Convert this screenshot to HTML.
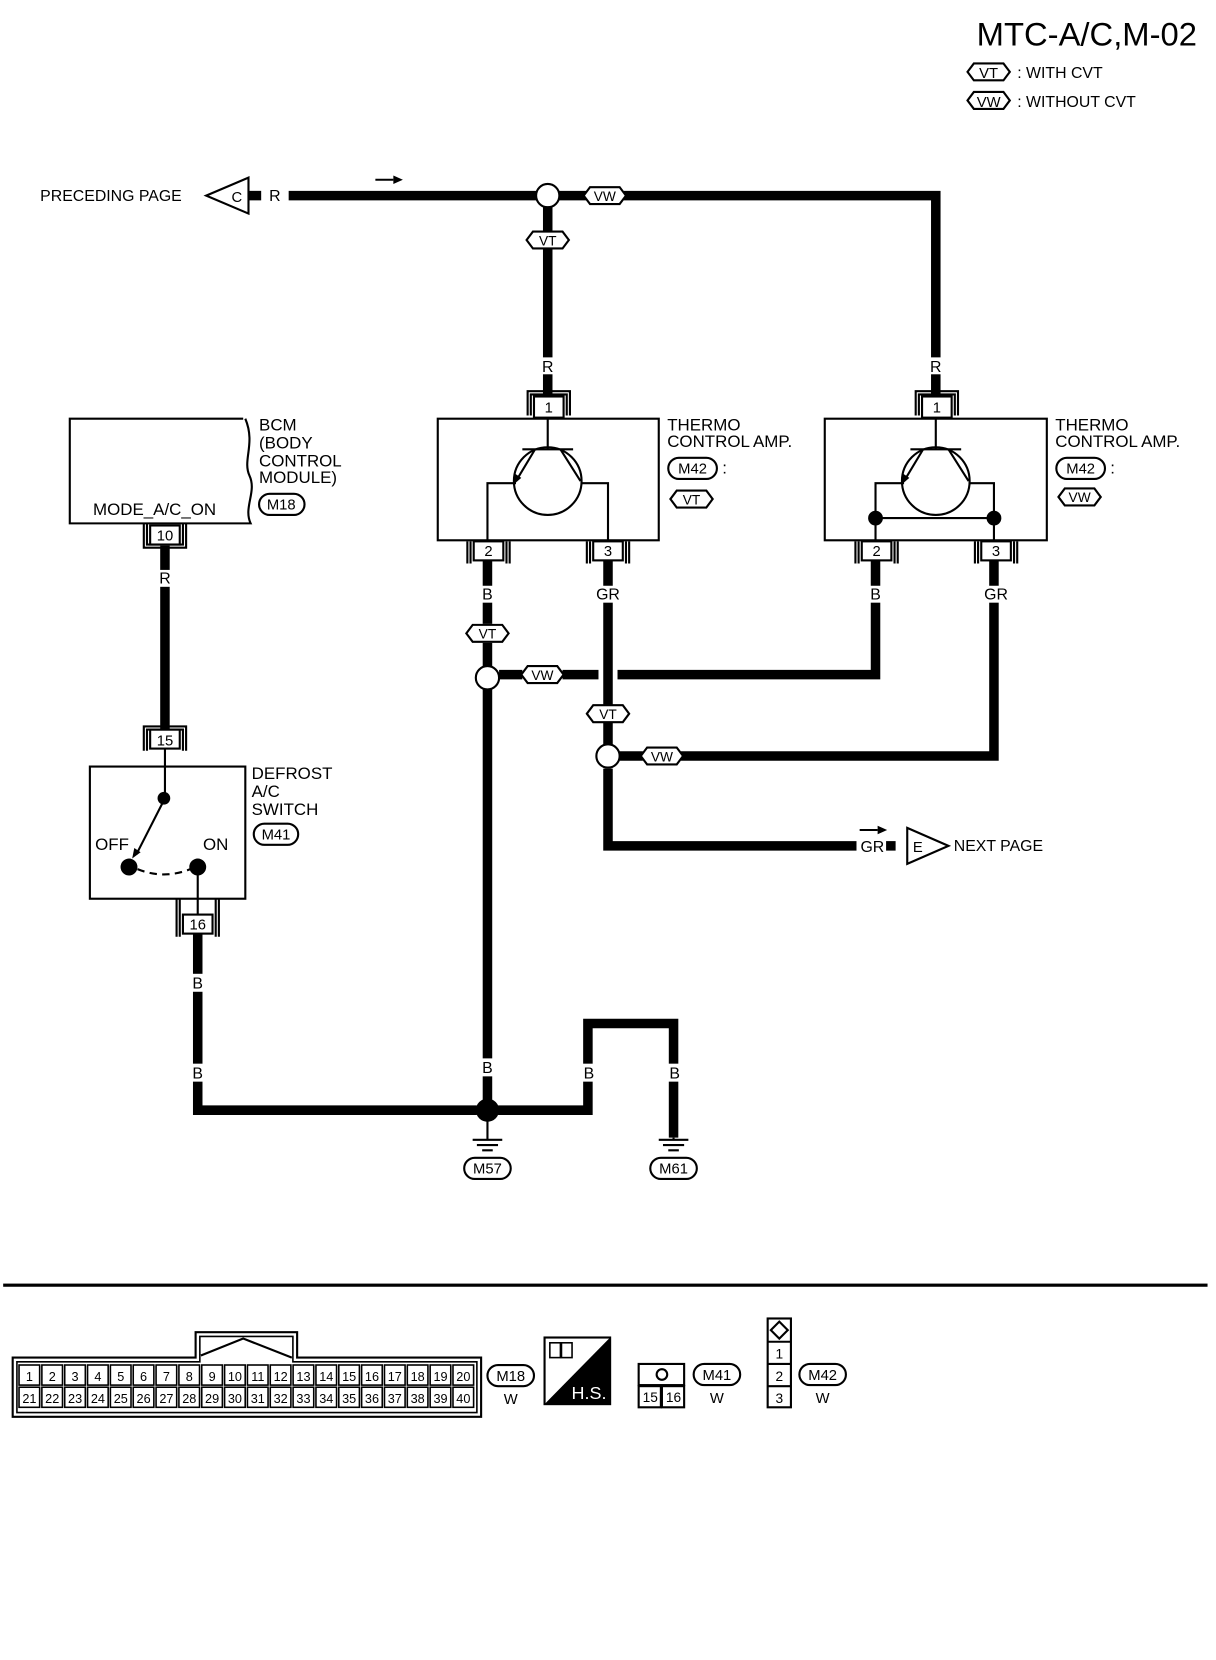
<!DOCTYPE html>
<html><head><meta charset="utf-8"><style>
html,body{margin:0;padding:0;background:#fff}
svg{display:block}
text{font-family:"Liberation Sans",sans-serif;fill:#000}
</style></head><body>
<svg width="1216" height="1660" viewBox="0 0 1150 1570" preserveAspectRatio="none" xmlns="http://www.w3.org/2000/svg">
<defs>
<g id="hx"><polygon points="-20,0 -14,-8 14,-8 20,0 14,8 -14,8" fill="#fff" stroke="#000" stroke-width="2"/></g>
</defs>
<text x="1132" y="43" font-size="31" text-anchor="end">MTC-A/C,M-02</text>
<use href="#hx" x="935" y="68"/><text x="935" y="74" font-size="14" text-anchor="middle">VT</text>
<text x="962" y="74" font-size="15">: WITH CVT</text>
<use href="#hx" x="935" y="95"/><text x="935" y="101" font-size="14" text-anchor="middle">VW</text>
<text x="962" y="101" font-size="15">: WITHOUT CVT</text>

<g stroke="#000" stroke-width="9" fill="none">
<path d="M273 185 H507"/>
<path d="M529 185 H555"/>
<path d="M590 185 H885 V375"/>
<path d="M518 196 V220 M518 236 V375"/>
<path d="M461 530 V590"/>
<path d="M461 608 V630"/>
<path d="M461 652 V1050"/>
<path d="M575 530 V667"/>
<path d="M575 683 V704"/>
<path d="M575 727 V800 H810"/>
<path d="M472 638 H494 M532 638 H566 M584 638 H828 V530"/>
<path d="M586 715 H608 M644 715 H940 V530"/>
<path d="M156 516 V690"/>
<path d="M187 883 V1050 H451"/>
<path d="M471 1050 H556 V968 H637 V1076"/>
<path d="M838 800 H847"/>
<path d="M235 185 H247"/>
</g>
<g font-size="15" text-anchor="middle">
<rect x="509" y="338" width="18" height="16" fill="#fff"/><text x="518" y="352">R</text>
<rect x="876" y="338" width="18" height="16" fill="#fff"/><text x="885" y="352">R</text>
<text x="260" y="190">R</text>
<rect x="147" y="539" width="18" height="16" fill="#fff"/><text x="156" y="552">R</text>
<rect x="452" y="554" width="18" height="16" fill="#fff"/><text x="461" y="567">B</text>
<rect x="562" y="554" width="26" height="16" fill="#fff"/><text x="575" y="567">GR</text>
<rect x="819" y="554" width="18" height="16" fill="#fff"/><text x="828" y="567">B</text>
<rect x="929" y="554" width="26" height="16" fill="#fff"/><text x="942" y="567">GR</text>
<rect x="178" y="921" width="18" height="17" fill="#fff"/><text x="187" y="935">B</text>
<rect x="178" y="1006" width="18" height="17" fill="#fff"/><text x="187" y="1020">B</text>
<rect x="452" y="1001" width="18" height="17" fill="#fff"/><text x="461" y="1015">B</text>
<rect x="548" y="1006" width="18" height="17" fill="#fff"/><text x="557" y="1020">B</text>
<rect x="629" y="1006" width="18" height="17" fill="#fff"/><text x="638" y="1020">B</text>
<text x="825" y="806">GR</text>
</g>
<path d="M355 170 H372" stroke="#000" stroke-width="2"/><polygon points="372,166 381,170 372,174"/>
<path d="M813 785 H830" stroke="#000" stroke-width="2"/><polygon points="830,781 839,785 830,789"/>
<text x="38" y="190" font-size="15">PRECEDING PAGE</text>
<polygon points="195,185 235,168 235,202" fill="#fff" stroke="#000" stroke-width="2"/>
<text x="224" y="191" font-size="14" text-anchor="middle">C</text>
<polygon points="897,800 858,783 858,817" fill="#fff" stroke="#000" stroke-width="2"/>
<text x="868" y="806" font-size="14" text-anchor="middle">E</text>
<text x="902" y="805" font-size="15">NEXT PAGE</text>
<g fill="#fff" stroke="#000" stroke-width="2">
<circle cx="518" cy="185" r="11"/>
<circle cx="461" cy="641" r="11"/>
<circle cx="575" cy="715" r="11"/>
</g>
<circle cx="461" cy="1050" r="11"/>
<use href="#hx" x="572" y="185"/><text x="572" y="190" font-size="13" text-anchor="middle">VW</text>
<use href="#hx" x="518" y="227"/><text x="518" y="232" font-size="13" text-anchor="middle">VT</text>
<use href="#hx" x="461" y="599"/><text x="461" y="604" font-size="13" text-anchor="middle">VT</text>
<use href="#hx" x="513" y="638"/><text x="513" y="643" font-size="13" text-anchor="middle">VW</text>
<use href="#hx" x="575" y="675"/><text x="575" y="680" font-size="13" text-anchor="middle">VT</text>
<use href="#hx" x="626" y="715"/><text x="626" y="720" font-size="13" text-anchor="middle">VW</text>
<use href="#hx" x="654" y="472"/><text x="654" y="477" font-size="13" text-anchor="middle">VT</text>
<use href="#hx" x="1021" y="470"/><text x="1021" y="475" font-size="13" text-anchor="middle">VW</text>

<g fill="none" stroke="#000" stroke-width="2">
<rect x="414" y="396" width="209" height="115"/>
<rect x="780" y="396" width="210" height="115"/>
<rect x="505" y="375" width="28" height="20" fill="#fff"/><path d="M499 393 V370 H539 V393 M502 393 V373 H536 V393"/>
<rect x="872" y="375" width="28" height="20" fill="#fff"/><path d="M866 393 V370 H906 V393 M869 393 V373 H903 V393"/>
<rect x="448" y="512" width="28" height="18" fill="#fff"/><path d="M442 512 V533 M445 512 V533 M479 512 V533 M482 512 V533"/>
<rect x="561" y="512" width="28" height="18" fill="#fff"/><path d="M555 512 V533 M558 512 V533 M592 512 V533 M595 512 V533"/>
<rect x="815" y="512" width="28" height="18" fill="#fff"/><path d="M809 512 V533 M812 512 V533 M846 512 V533 M849 512 V533"/>
<rect x="928" y="512" width="28" height="18" fill="#fff"/><path d="M922 512 V533 M925 512 V533 M959 512 V533 M962 512 V533"/>
<circle cx="518" cy="455" r="32"/>
<path d="M518 396 V425 M494 425 H542 M506 425 L488 455 M530 425 L549 455 M488 457 H461 V511 M549 457 H575 V511"/>
<circle cx="885" cy="455" r="32"/>
<path d="M885 396 V425 M861 425 H909 M873 425 L855 455 M897 425 L916 455 M855 457 H828 V511 M916 457 H940 V511 M828 490 H940"/>
<path d="M230 396 H66 V495 H237 C230 480 243 465 236 450 C229 435 242 420 232 396"/>
<rect x="142" y="497" width="28" height="18" fill="#fff"/><path d="M136 495 V518 H176 V495 M139 495 V515 H173 V495"/>
<rect x="85" y="725" width="147" height="125"/>
<rect x="142" y="690" width="28" height="18" fill="#fff"/><path d="M136 710 V687 H176 V710 M139 710 V690 H173 V710"/>
<rect x="173" y="865" width="28" height="18" fill="#fff"/><path d="M167 850 V886 M170 850 V886 M204 850 V886 M207 850 V886"/>
<path d="M156 708 V755 L129 808"/>
<path d="M187 820 V865"/>
<path d="M130 822 Q155 832 180 822" stroke-dasharray="7,5"/>
<path d="M461 1060 V1078 M447 1078 H475 M451 1083 H471 M456 1088 H466"/>
<path d="M637 1076 V1078 M623 1078 H651 M627 1083 H647 M632 1088 H642"/>
</g>
<polygon points="125,812 127,802 133,806"/>
<circle cx="155" cy="755" r="6"/>
<circle cx="122" cy="820" r="8"/>
<circle cx="187" cy="820" r="8"/>
<circle cx="828" cy="490" r="7"/>
<circle cx="940" cy="490" r="7"/>
<polygon points="486,458 487,448 493,452"/>
<polygon points="853,458 854,448 860,452"/>
<g font-size="14" text-anchor="middle">
<text x="519" y="390">1</text><text x="886" y="390">1</text>
<text x="462" y="526">2</text><text x="575" y="526">3</text>
<text x="829" y="526">2</text><text x="942" y="526">3</text>
<text x="156" y="511">10</text><text x="156" y="705">15</text><text x="187" y="879">16</text>
</g>
<g font-size="16">
<text x="631" y="407">THERMO</text><text x="631" y="423">CONTROL AMP.</text>
<text x="998" y="407">THERMO</text><text x="998" y="423">CONTROL AMP.</text>
<text x="245" y="407">BCM</text><text x="245" y="424">(BODY</text><text x="245" y="441">CONTROL</text><text x="245" y="457">MODULE)</text>
<text x="88" y="487">MODE_A/C_ON</text>
<text x="238" y="737">DEFROST</text><text x="238" y="754">A/C</text><text x="238" y="771">SWITCH</text>
<text x="90" y="804">OFF</text><text x="192" y="804">ON</text>
<text x="683" y="448">:</text><text x="1050" y="448">:</text>
</g>
<g fill="#fff" stroke="#000" stroke-width="2">
<rect x="632" y="433" width="46" height="20" rx="10"/>
<rect x="999" y="433" width="46" height="20" rx="10"/>
<rect x="245" y="467" width="43" height="20" rx="10"/>
<rect x="240" y="779" width="42" height="20" rx="10"/>
<rect x="439" y="1095" width="44" height="20" rx="10"/>
<rect x="615" y="1095" width="44" height="20" rx="10"/>
<rect x="461" y="1291" width="44" height="20" rx="10"/>
<rect x="656" y="1290" width="44" height="20" rx="10"/>
<rect x="756" y="1290" width="44" height="20" rx="10"/>
</g>
<g font-size="14" text-anchor="middle">
<text x="655" y="448">M42</text><text x="1022" y="448">M42</text>
<text x="266" y="482">M18</text><text x="261" y="794">M41</text>
<text x="461" y="1110">M57</text><text x="637" y="1110">M61</text>
<text x="483" y="1306">M18</text><text x="678" y="1305">M41</text><text x="778" y="1305">M42</text>
<text x="483" y="1328">W</text><text x="678" y="1327">W</text><text x="778" y="1327">W</text>
</g>
<rect x="3" y="1214" width="1139" height="3"/>
<g fill="none" stroke="#000" stroke-width="2">
<path d="M12 1340 V1284 H185 V1260 H281 V1284 H455 V1340 Z"/>
<path d="M16 1336 V1288 H189 V1264 H277 V1288 H451 V1336 Z" stroke-width="1.5"/>
<path d="M190 1282 L230 1266 L276 1284"/>
</g>
<g fill="none" stroke="#000" stroke-width="1.5" id="cells"></g>
<g font-size="12" text-anchor="middle" id="celltext"></g>
<script>
(function(){var g=document.getElementById('cells'),t=document.getElementById('celltext'),ns='http://www.w3.org/2000/svg';
for(var r=0;r<2;r++)for(var i=0;i<20;i++){var x=18+i*21.6,y=1291+r*21;var e=document.createElementNS(ns,'rect');
e.setAttribute('x',x);e.setAttribute('y',y);e.setAttribute('width',19.5);e.setAttribute('height',19);g.appendChild(e);
var s=document.createElementNS(ns,'text');s.setAttribute('x',x+9.8);s.setAttribute('y',y+15);s.textContent=(r*20+i+1);t.appendChild(s);}})();
</script>
<rect x="515" y="1265" width="62" height="63" fill="#fff" stroke="#000" stroke-width="2"/>
<polygon points="577,1265 577,1328 515,1328"/>
<text x="557" y="1323" font-size="17" text-anchor="middle" style="fill:#fff">H.S.</text>
<rect x="520" y="1270" width="10" height="14" fill="none" stroke="#000" stroke-width="1.5"/>
<rect x="531" y="1270" width="10" height="14" fill="none" stroke="#000" stroke-width="1.5"/>
<g fill="none" stroke="#000" stroke-width="2">
<rect x="604" y="1290" width="43" height="20"/>
<rect x="604" y="1311" width="21" height="20"/><rect x="626" y="1311" width="21" height="20"/>
<circle cx="626" cy="1300" r="5"/>
<rect x="726" y="1247" width="22" height="84"/>
<path d="M726 1269 H748 M726 1290 H748 M726 1311 H748"/>
<polygon points="737,1250 745,1258 737,1266 729,1258"/>
</g>
<g font-size="13" text-anchor="middle">
<text x="615" y="1326">15</text><text x="637" y="1326">16</text>
<text x="737" y="1285">1</text><text x="737" y="1306">2</text><text x="737" y="1327">3</text>
</g>
</svg>
</body></html>
